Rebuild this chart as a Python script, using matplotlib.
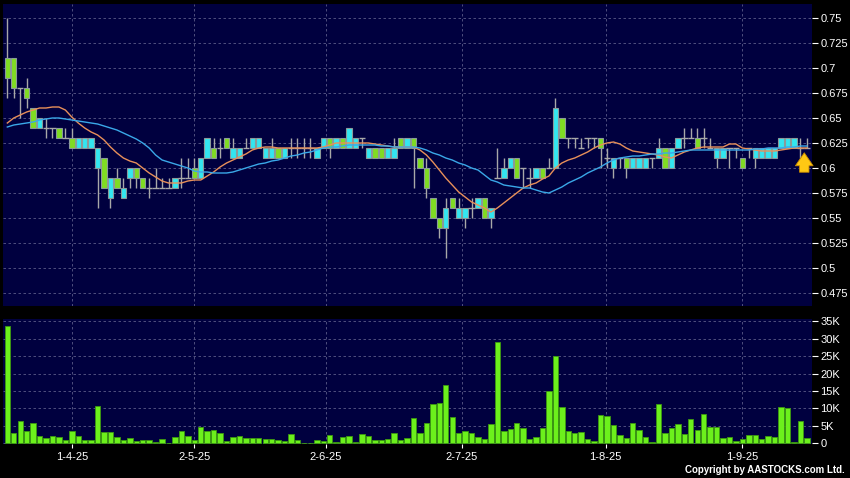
import matplotlib
matplotlib.use("Agg")
import matplotlib.pyplot as plt

plt.rcParams['font.family'] = ['Liberation Sans', 'DejaVu Sans']

# daily candles (one entry per trading day)
opens = [0.71, 0.71, 0.68, 0.68, 0.66, 0.64, 0.64, 0.64, 0.64, 0.63,
         0.63, 0.62, 0.62, 0.62, 0.60, 0.61, 0.57, 0.59, 0.57, 0.59,
         0.60, 0.59, 0.58, 0.58, 0.58, 0.58, 0.58, 0.59, 0.59, 0.60,
         0.59, 0.61, 0.62, 0.62, 0.63, 0.61, 0.61, 0.62, 0.62, 0.62,
         0.61, 0.61, 0.62, 0.61, 0.62, 0.62, 0.62, 0.62, 0.61, 0.62,
         0.63, 0.62, 0.63, 0.62, 0.62, 0.63, 0.61, 0.62, 0.62, 0.61,
         0.61, 0.63, 0.62, 0.63, 0.61, 0.60, 0.57, 0.55, 0.54, 0.57,
         0.55, 0.55, 0.56, 0.56, 0.57, 0.55, 0.59, 0.59, 0.60, 0.61,
         0.60, 0.59, 0.59, 0.60, 0.60, 0.60, 0.65, 0.63, 0.63, 0.62,
         0.63, 0.63, 0.63, 0.61, 0.60, 0.61, 0.61, 0.60, 0.60, 0.60,
         0.61, 0.61, 0.62, 0.60, 0.62, 0.63, 0.63, 0.63, 0.63, 0.62,
         0.61, 0.61, 0.62, 0.62, 0.61, 0.62, 0.61, 0.61, 0.61, 0.61,
         0.62, 0.62, 0.62, 0.62, 0.62]
highs = [0.75, 0.71, 0.68, 0.69, 0.66, 0.65, 0.65, 0.64, 0.64, 0.64,
         0.64, 0.63, 0.63, 0.63, 0.62, 0.61, 0.59, 0.60, 0.59, 0.60,
         0.60, 0.59, 0.59, 0.60, 0.59, 0.59, 0.59, 0.61, 0.61, 0.61,
         0.61, 0.63, 0.63, 0.63, 0.63, 0.63, 0.62, 0.63, 0.63, 0.63,
         0.62, 0.63, 0.62, 0.62, 0.63, 0.63, 0.63, 0.63, 0.62, 0.63,
         0.63, 0.63, 0.63, 0.64, 0.63, 0.63, 0.62, 0.62, 0.62, 0.62,
         0.63, 0.63, 0.63, 0.63, 0.61, 0.61, 0.57, 0.55, 0.57, 0.57,
         0.57, 0.56, 0.57, 0.57, 0.57, 0.56, 0.62, 0.61, 0.61, 0.61,
         0.60, 0.60, 0.60, 0.60, 0.61, 0.67, 0.65, 0.63, 0.63, 0.63,
         0.63, 0.63, 0.63, 0.62, 0.61, 0.61, 0.61, 0.61, 0.61, 0.61,
         0.61, 0.63, 0.62, 0.62, 0.63, 0.64, 0.64, 0.64, 0.64, 0.63,
         0.62, 0.62, 0.62, 0.62, 0.61, 0.62, 0.62, 0.62, 0.62, 0.62,
         0.63, 0.63, 0.63, 0.63, 0.63]
lows = [0.67, 0.67, 0.65, 0.66, 0.64, 0.64, 0.63, 0.63, 0.63, 0.63,
        0.62, 0.62, 0.62, 0.62, 0.56, 0.58, 0.56, 0.58, 0.57, 0.58,
        0.58, 0.58, 0.57, 0.58, 0.58, 0.58, 0.58, 0.58, 0.59, 0.59,
        0.59, 0.61, 0.61, 0.61, 0.62, 0.61, 0.61, 0.62, 0.62, 0.62,
        0.61, 0.61, 0.61, 0.61, 0.61, 0.61, 0.61, 0.61, 0.61, 0.62,
        0.61, 0.62, 0.62, 0.62, 0.62, 0.62, 0.61, 0.61, 0.61, 0.61,
        0.61, 0.62, 0.62, 0.58, 0.60, 0.57, 0.55, 0.53, 0.51, 0.56,
        0.55, 0.54, 0.55, 0.56, 0.55, 0.54, 0.59, 0.59, 0.60, 0.59,
        0.58, 0.58, 0.59, 0.59, 0.60, 0.60, 0.63, 0.62, 0.62, 0.62,
        0.62, 0.62, 0.60, 0.60, 0.59, 0.60, 0.59, 0.60, 0.60, 0.60,
        0.60, 0.61, 0.60, 0.60, 0.62, 0.62, 0.63, 0.62, 0.62, 0.62,
        0.60, 0.61, 0.60, 0.61, 0.60, 0.61, 0.60, 0.61, 0.61, 0.61,
        0.62, 0.62, 0.62, 0.61, 0.62]
closes = [0.69, 0.68, 0.68, 0.67, 0.64, 0.65, 0.64, 0.64, 0.63, 0.63,
          0.62, 0.63, 0.63, 0.63, 0.62, 0.58, 0.59, 0.58, 0.58, 0.60,
          0.59, 0.58, 0.58, 0.58, 0.58, 0.58, 0.59, 0.59, 0.59, 0.59,
          0.61, 0.63, 0.61, 0.62, 0.62, 0.62, 0.62, 0.62, 0.63, 0.63,
          0.62, 0.62, 0.61, 0.62, 0.62, 0.62, 0.62, 0.62, 0.62, 0.63,
          0.62, 0.63, 0.62, 0.64, 0.63, 0.63, 0.62, 0.61, 0.61, 0.62,
          0.62, 0.62, 0.63, 0.62, 0.60, 0.58, 0.55, 0.54, 0.56, 0.56,
          0.56, 0.56, 0.56, 0.57, 0.55, 0.56, 0.59, 0.60, 0.61, 0.59,
          0.60, 0.59, 0.60, 0.59, 0.60, 0.66, 0.63, 0.63, 0.63, 0.62,
          0.63, 0.63, 0.62, 0.61, 0.61, 0.61, 0.60, 0.61, 0.61, 0.61,
          0.61, 0.62, 0.60, 0.62, 0.63, 0.63, 0.63, 0.62, 0.63, 0.62,
          0.62, 0.62, 0.62, 0.62, 0.60, 0.62, 0.62, 0.62, 0.62, 0.62,
          0.63, 0.63, 0.63, 0.62, 0.62]

# moving average lines as drawn on the chart
ma_short = [0.645, 0.650, 0.653, 0.656, 0.658, 0.660, 0.660, 0.661, 0.661, 0.658,
            0.651, 0.645, 0.640, 0.636, 0.633, 0.628, 0.621, 0.615, 0.610, 0.607,
            0.605, 0.600, 0.595, 0.591, 0.587, 0.585, 0.585, 0.585, 0.587, 0.588,
            0.588, 0.592, 0.596, 0.601, 0.605, 0.608, 0.611, 0.614, 0.618, 0.620,
            0.621, 0.621, 0.620, 0.620, 0.620, 0.620, 0.620, 0.620, 0.620, 0.621,
            0.623, 0.625, 0.625, 0.625, 0.625, 0.625, 0.625, 0.624, 0.623, 0.622,
            0.621, 0.621, 0.621, 0.621, 0.618, 0.613, 0.606, 0.598, 0.590, 0.583,
            0.576, 0.571, 0.566, 0.563, 0.560, 0.556, 0.560, 0.565, 0.570, 0.575,
            0.580, 0.583, 0.585, 0.589, 0.592, 0.600, 0.605, 0.608, 0.610, 0.613,
            0.616, 0.620, 0.623, 0.625, 0.626, 0.624, 0.620, 0.617, 0.616, 0.615,
            0.614, 0.613, 0.611, 0.610, 0.613, 0.616, 0.618, 0.620, 0.621, 0.621,
            0.621, 0.621, 0.624, 0.624, 0.620, 0.619, 0.618, 0.617, 0.617, 0.617,
            0.618, 0.619, 0.620, 0.620, 0.620]
ma_long = [0.641, 0.643, 0.644, 0.645, 0.646, 0.648, 0.649, 0.650, 0.650, 0.649,
           0.648, 0.647, 0.646, 0.645, 0.644, 0.642, 0.640, 0.638, 0.635, 0.632,
           0.629, 0.625, 0.620, 0.613, 0.608, 0.606, 0.604, 0.602, 0.600, 0.597,
           0.596, 0.596, 0.595, 0.595, 0.595, 0.596, 0.598, 0.600, 0.602, 0.604,
           0.605, 0.607, 0.608, 0.610, 0.612, 0.613, 0.615, 0.616, 0.618, 0.620,
           0.621, 0.621, 0.622, 0.623, 0.623, 0.623, 0.623, 0.623, 0.622, 0.622,
           0.621, 0.621, 0.621, 0.621, 0.620, 0.618, 0.615, 0.613, 0.610, 0.608,
           0.605, 0.603, 0.600, 0.598, 0.593, 0.588, 0.586, 0.583, 0.582, 0.581,
           0.580, 0.580, 0.578, 0.576, 0.575, 0.578, 0.581, 0.585, 0.588, 0.591,
           0.595, 0.598, 0.601, 0.605, 0.608, 0.610, 0.611, 0.612, 0.612, 0.613,
           0.614, 0.614, 0.615, 0.615, 0.616, 0.617, 0.618, 0.618, 0.618, 0.618,
           0.618, 0.618, 0.618, 0.618, 0.618, 0.618, 0.619, 0.619, 0.620, 0.620,
           0.620, 0.621, 0.621, 0.622, 0.622]

# volume in thousands of shares
volume_k = [33.6, 3.0, 6.5, 3.6, 5.7, 2.2, 1.5, 2.2, 1.8, 1.0,
            3.4, 2.1, 1.0, 0.9, 10.7, 3.3, 3.2, 1.9, 1.0, 1.6,
            0.8, 1.0, 1.0, 0.4, 1.3, 0.1, 1.8, 3.4, 2.2, 1.0,
            4.6, 3.5, 3.9, 2.9, 0.7, 1.7, 2.2, 1.6, 1.4, 1.4,
            1.1, 1.1, 1.0, 0.6, 2.6, 1.0, 0.2, 0.2, 1.0, 0.6,
            2.4, 0.3, 1.7, 2.2, 0.4, 2.7, 2.0, 0.9, 0.9, 1.1,
            3.0, 1.0, 1.5, 7.2, 2.9, 5.7, 11.2, 11.6, 16.7, 7.6,
            2.9, 3.6, 2.9, 1.7, 1.1, 5.5, 29.2, 3.4, 4.2, 5.9,
            4.4, 1.1, 1.8, 4.4, 14.9, 25.0, 10.5, 3.5, 2.9, 3.3,
            1.2, 0.7, 8.0, 7.8, 5.4, 2.3, 1.4, 5.7, 3.7, 1.7,
            0.3, 11.2, 2.9, 4.5, 5.5, 2.7, 7.1, 3.9, 8.4, 4.8,
            4.8, 1.4, 1.9, 0.8, 1.3, 2.5, 2.4, 1.2, 2.1, 1.9,
            10.4, 10.1, 0.4, 6.4, 1.4]

date_labels = ['1-4-25', '2-5-25', '2-6-25', '2-7-25', '1-8-25', '1-9-25']
date_pos = [10, 29, 49.4, 70.5, 92.8, 114]
price_ticks = [0.475, 0.5, 0.525, 0.55, 0.575, 0.6, 0.625, 0.65, 0.675, 0.7, 0.725, 0.75]
vol_ticks = [0, 5, 10, 15, 20, 25, 30, 35]

BG = '#00003f'
UP = '#33e6f0'
DOWN = '#80dc22'
EDGE = '#8a9a9a'
WICK = '#a8a8a8'
GRID = '#5c5c88'

x = list(range(len(closes)))

fig = plt.figure(figsize=(8.5, 4.78), dpi=100, facecolor='black')
ax = fig.add_axes([3 / 850, 1 - 306 / 478, 809 / 850, 302 / 478])
axv = fig.add_axes([3 / 850, 1 - 444 / 478, 809 / 850, 125 / 478], sharex=ax)

for a in (ax, axv):
    a.set_facecolor(BG)
    for s in a.spines.values():
        s.set_visible(False)
    a.set_axisbelow(True)
    a.grid(True, color=GRID, linestyle=(0, (3, 3)), linewidth=0.6)
    a.yaxis.tick_right()
    a.tick_params(axis='y', colors='white', length=4, width=0.8, pad=2, labelsize=8)

# ---- candles ----
ax.vlines(x, lows, highs, color=WICK, linewidth=1.0, zorder=2)
for i in x:
    o, c = opens[i], closes[i]
    if c > o:
        ax.bar(i, c - o, bottom=o, width=0.84, color=UP, edgecolor=EDGE, linewidth=0.8, zorder=3)
    elif c < o:
        ax.bar(i, o - c, bottom=c, width=0.84, color=DOWN, edgecolor=EDGE, linewidth=0.8, zorder=3)
    else:
        ax.hlines(c, i - 0.5, i + 0.5, color=WICK, linewidth=1.0, zorder=3)

ax.plot(x, ma_short, color='#e8905a', linewidth=1.0, zorder=4)
ax.plot(x, ma_long, color='#3aa8e8', linewidth=1.0, zorder=4)

# last price marker
last = x[-1]
ax.annotate('', xy=(last - 0.4, closes[-1] - 0.002), xytext=(last - 0.4, closes[-1] - 0.027),
            arrowprops=dict(arrowstyle='simple,head_length=0.55,head_width=0.75,tail_width=0.4',
                            fc='#ffc814', ec='#c88a00', lw=0.6, mutation_scale=17),
            zorder=5)

ax.set_ylim(0.462, 0.764)
ax.set_yticks(price_ticks)
ax.set_yticklabels([f"{v:g}" for v in price_ticks])
ax.tick_params(axis='x', length=0, labelbottom=False)

# ---- volume ----
axv.bar(x, volume_k, width=0.84, color='#6cf01c', edgecolor='#3c9a10', linewidth=0.6, zorder=3)
axv.set_ylim(-0.2, 35.7)
axv.set_yticks(vol_ticks)
axv.set_yticklabels(['0'] + [f"{v}K" for v in vol_ticks[1:]])

axv.set_xlim(-0.67, 124.8)
axv.set_xticks(date_pos)
axv.set_xticklabels(date_labels)
axv.tick_params(axis='x', colors='white', length=3, width=0.8, pad=3, labelsize=8)

fig.text(845 / 850, 1 - 475 / 478, 'Copyright by AASTOCKS.com Ltd.', ha='right', va='bottom',
         color='white', fontsize=7, fontweight='bold')

fig.savefig('out.png', dpi=100, facecolor='black')
